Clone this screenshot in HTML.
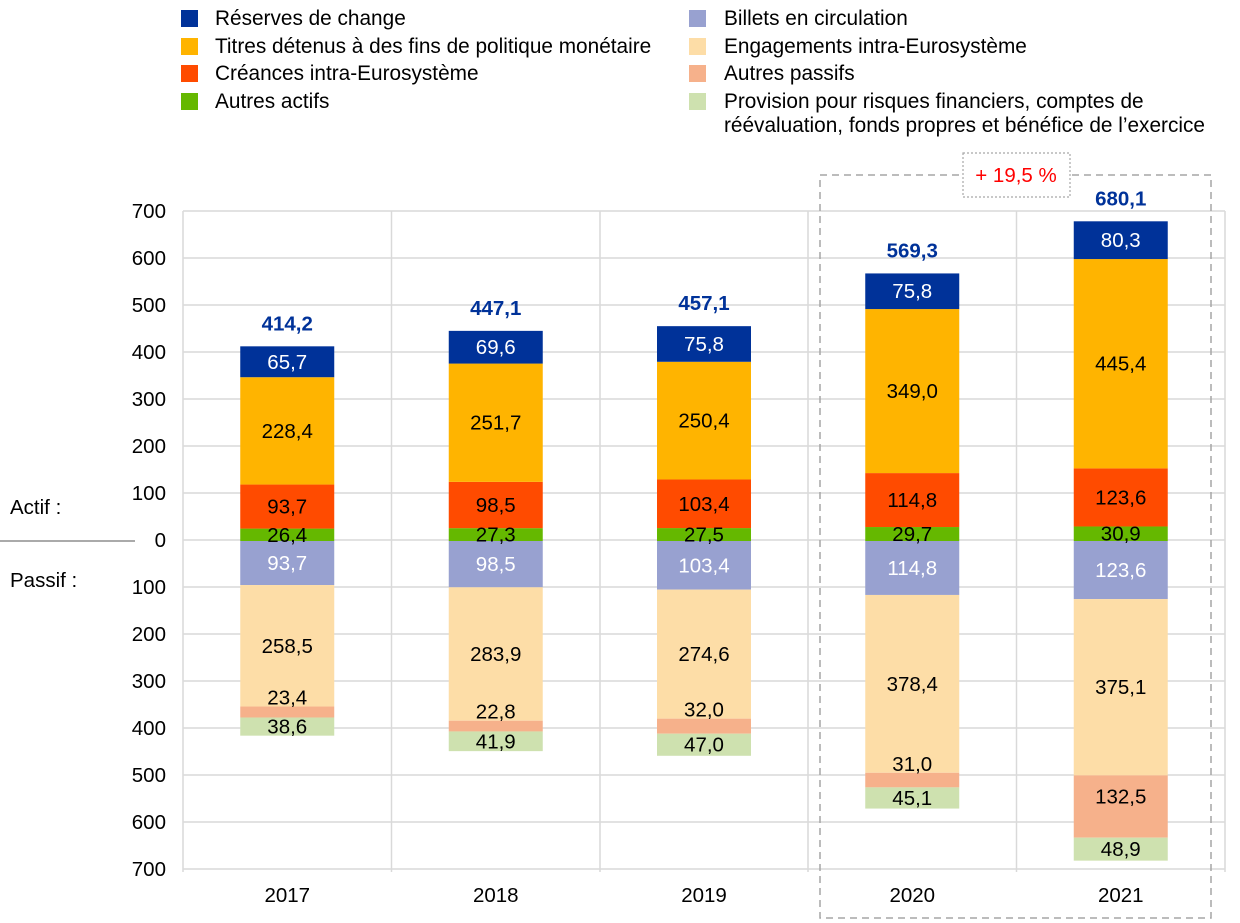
<!DOCTYPE html>
<html><head><meta charset="utf-8"><style>
html,body{margin:0;padding:0;background:#fff;}
svg{display:block;font-family:"Liberation Sans",Arial,sans-serif;}
</style></head><body>
<svg id="c" width="1240" height="923" viewBox="0 0 1240 923" xmlns="http://www.w3.org/2000/svg">
<g font-size="20.8" fill="#000">
<rect x="181" y="10" width="17" height="17" fill="#003299"/><text x="215" y="25">Réserves de change</text>
<rect x="181" y="38" width="17" height="17" fill="#FFB400"/><text x="215" y="53">Titres détenus à des fins de politique monétaire</text>
<rect x="181" y="65" width="17" height="17" fill="#FF4B00"/><text x="215" y="80">Créances intra-Eurosystème</text>
<rect x="181" y="93" width="17" height="17" fill="#65B800"/><text x="215" y="108">Autres actifs</text>
<rect x="689" y="10" width="17" height="17" fill="#98A1D0"/><text x="724" y="25">Billets en circulation</text>
<rect x="689" y="38" width="17" height="17" fill="#FDDDA7"/><text x="724" y="53">Engagements intra-Eurosystème</text>
<rect x="689" y="65" width="17" height="17" fill="#F6B18B"/><text x="724" y="80">Autres passifs</text>
<rect x="689" y="93" width="17" height="17" fill="#CEE1AF"/><text x="724" y="108">Provision pour risques financiers, comptes de</text>
<text x="724" y="132">réévaluation, fonds propres et bénéfice de l’exercice</text>
</g>
<g id="grid" stroke="#d9d9d9" stroke-width="1.5" fill="none"></g>
<g id="bars"></g>
<g id="lbl" font-size="20.5" text-anchor="middle"></g>
<text x="10" y="514" font-size="20.5">Actif :</text>
<line x1="0" y1="541" x2="135" y2="541" stroke="#555" stroke-width="1"/>
<text x="10" y="587" font-size="20.5">Passif :</text>
<rect x="820" y="175" width="391" height="743" fill="none" stroke="#a6a6a6" stroke-width="1.5" stroke-dasharray="7,5"/>
<rect x="963" y="153" width="107" height="44" fill="#fff" stroke="#a6a6a6" stroke-width="1.2" stroke-dasharray="2,2"/>
<text x="1016" y="182" font-size="20.5" fill="#FF0000" text-anchor="middle">+ 19,5 %</text>
</svg>
<script>
var ns="http://www.w3.org/2000/svg",Z=541,K=0.47;
function el(p,t,a,txt){var e=document.createElementNS(ns,t);for(var k in a)e.setAttribute(k,a[k]);if(txt!=null)e.textContent=txt;document.getElementById(p).appendChild(e);return e;}
var L=183,R=1225,T=211,B=870;
for(var i=0;i<=14;i++){var y=T+i*47;el("grid","line",{x1:L,x2:R,y1:y,y2:y});
var v=Math.abs(700-i*100);el("lbl","text",{x:166,y:y+7,"text-anchor":"end"},v);}
var cols=[183,391.5,600,808,1016.5,1225];
cols.forEach(function(x){el("grid","line",{x1:x,x2:x,y1:T,y2:B+2});});
var d=[["2017",26.4,93.7,228.4,65.7,93.7,258.5,23.4,38.6,"414,2"],
["2018",27.3,98.5,251.7,69.6,98.5,283.9,22.8,41.9,"447,1"],
["2019",27.5,103.4,250.4,75.8,103.4,274.6,32.0,47.0,"457,1"],
["2020",29.7,114.8,349.0,75.8,114.8,378.4,31.0,45.1,"569,3"],
["2021",30.9,123.6,445.4,80.3,123.6,375.1,132.5,48.9,"680,1"]];
var pc=["#65B800","#FF4B00","#FFB400","#003299"],nc=["#98A1D0","#FDDDA7","#F6B18B","#CEE1AF"];
function f(v){return v.toFixed(1).replace(".",",");}
d.forEach(function(r,j){var cx=(cols[j]+cols[j+1])/2,x=cx-47;
var s=0;for(var k=0;k<4;k++){var v=r[1+k],y0=Z-s*K,y1=Z-(s+v)*K;
el("bars","rect",{x:x,y:y1,width:94,height:y0-y1,fill:pc[k]});
el("lbl","text",{x:cx,y:(y0+y1)/2+7,fill:k==3?"#fff":"#000"},f(v));s+=v;}
el("lbl","text",{x:cx,y:Z-s*K-16,fill:"#003299","font-weight":"bold"},r[9]);
s=0;for(k=0;k<4;k++){v=r[5+k];y0=Z+s*K;y1=Z+(s+v)*K;
el("bars","rect",{x:x,y:y0,width:94,height:y1-y0,fill:nc[k]});
var ly=(y0+y1)/2+7;if(k==2&&v<50)ly=y0-2;if(k==2&&v>=50)ly=(y0+y1)/2-3;
el("lbl","text",{x:cx,y:ly,fill:k==0?"#fff":"#000"},f(v));s+=v;}
el("lbl","text",{x:cx,y:902,fill:"#000"},r[0]);});
</script>
</body></html>
